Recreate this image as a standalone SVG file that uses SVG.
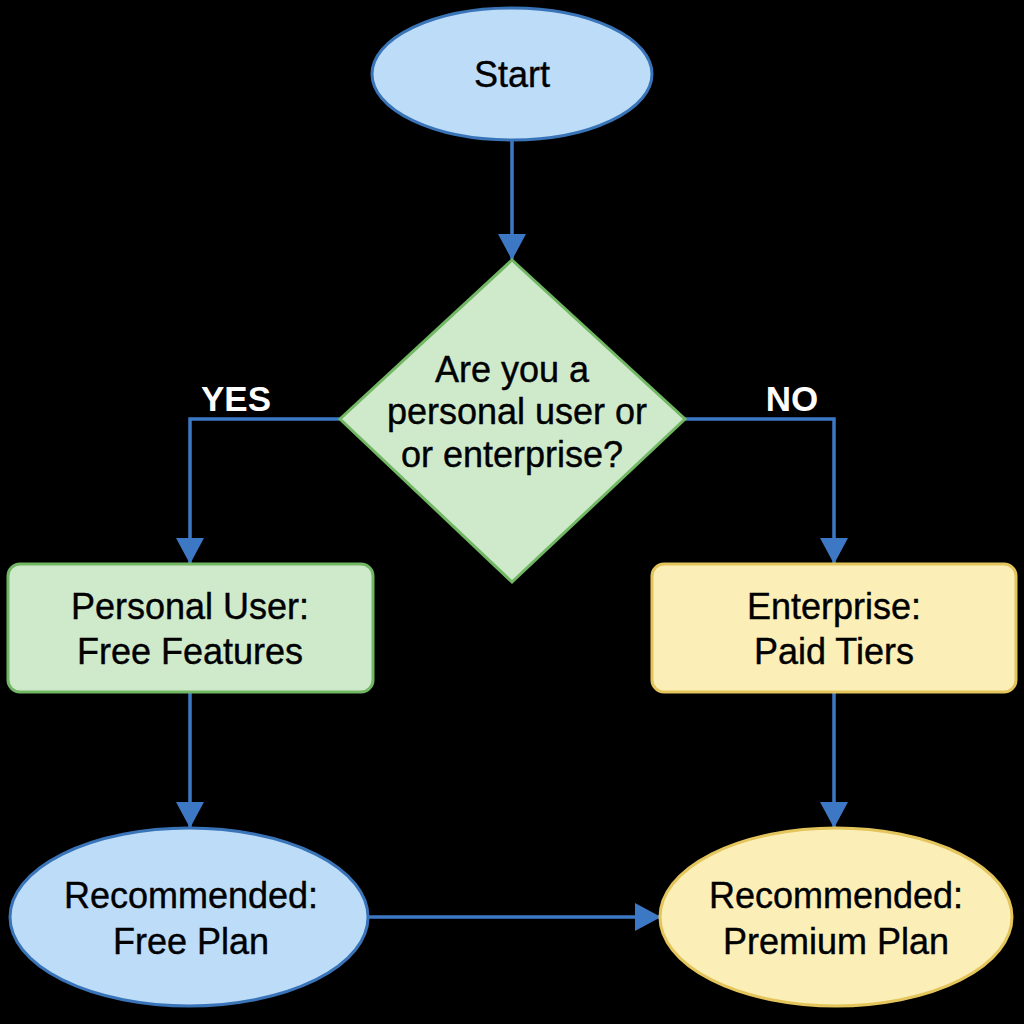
<svg xmlns="http://www.w3.org/2000/svg" width="1024" height="1024" viewBox="0 0 1024 1024">
<defs>
<style>
.t{font-family:"Liberation Sans",Arial,sans-serif;font-size:36px;fill:#000;stroke:#000;stroke-width:0.4;text-anchor:middle}
.lbl{font-family:"Liberation Sans",Arial,sans-serif;font-size:35px;font-weight:bold;fill:#fff;text-anchor:middle}
.c{fill:none;stroke:#3d78c4;stroke-width:3.5}
.blue{fill:#bcdcf8;stroke:#3a74b8;stroke-width:3}
.green{fill:#cfe9cb;stroke:#72b864;stroke-width:3}
.yellow{fill:#fbeeb6;stroke:#e3c55c;stroke-width:3}
</style>
<marker id="ah" markerWidth="30" markerHeight="28" refX="25" refY="14" orient="auto" markerUnits="userSpaceOnUse">
<path d="M0,0 L26,14 L0,28 Z" fill="#3d78c4"/>
</marker>
</defs>
<rect width="1024" height="1024" fill="#000"/>
<g id="connectors">
<path class="c" d="M512,141 V259" marker-end="url(#ah)"/>
<path class="c" d="M340,419 H190 V563" marker-end="url(#ah)"/>
<path class="c" d="M685,419 H834 V563" marker-end="url(#ah)"/>
<path class="c" d="M190,692 V827" marker-end="url(#ah)"/>
<path class="c" d="M834,692 V827" marker-end="url(#ah)"/>
<path class="c" d="M368,917 H660" marker-end="url(#ah)"/>
<text class="lbl" x="236" y="411">YES</text>
<text class="lbl" x="792" y="411">NO</text>
</g>
<g id="start">
<ellipse class="blue" cx="512" cy="74" rx="140" ry="66"/>
<text class="t" x="512" y="87">Start</text>
</g>
<g id="decision">
<polygon class="green" points="512,260 685,419 512,582 340,419"/>
<text class="t" x="512" y="382">Are you a</text>
<text class="t" x="517" y="424">personal user or</text>
<text class="t" x="512" y="467">or enterprise?</text>
</g>
<g id="personal">
<rect class="green" x="8" y="564" width="365" height="128" rx="12"/>
<text class="t" x="190" y="619">Personal User:</text>
<text class="t" x="190" y="664">Free Features</text>
</g>
<g id="enterprise">
<rect class="yellow" x="652" y="564" width="364" height="128" rx="12"/>
<text class="t" x="834" y="619">Enterprise:</text>
<text class="t" x="834" y="664">Paid Tiers</text>
</g>
<g id="free-plan">
<ellipse class="blue" cx="189" cy="917" rx="179" ry="89"/>
<text class="t" x="191" y="908">Recommended:</text>
<text class="t" x="191" y="954">Free Plan</text>
</g>
<g id="premium-plan">
<ellipse class="yellow" cx="836" cy="917" rx="176" ry="89"/>
<text class="t" x="836" y="908">Recommended:</text>
<text class="t" x="836" y="954">Premium Plan</text>
</g>
</svg>
